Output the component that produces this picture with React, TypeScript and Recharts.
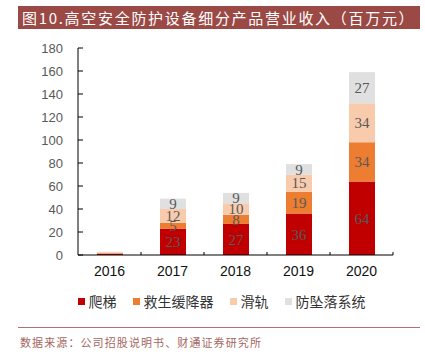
import React from 'react';
import { BarChart, Bar, XAxis, YAxis, LabelList, Legend } from 'recharts';

const years = ['2016', '2017', '2018', '2019', '2020'];
const pati = [1.2, 23, 27, 36, 64];
const jiusheng = [0.3, 5, 8, 19, 34];
const huagui = [1.0, 12, 10, 15, 34];
const fangzhui = [0.3, 9, 9, 9, 27];
const yTicks = [0, 20, 40, 60, 80, 100, 120, 140, 160, 180];

const series = [
  { key: '爬梯', values: pati, color: '#C00000' },
  { key: '救生缓降器', values: jiusheng, color: '#ED7D31' },
  { key: '滑轨', values: huagui, color: '#F8CBAD' },
  { key: '防坠落系统', values: fangzhui, color: '#E0E0E0' },
];

const data = years.map((year, i) => {
  const row: Record<string, string | number> = { year };
  series.forEach((s) => {
    row[s.key] = s.values[i];
  });
  return row;
});

const CHART_W = 425;
const CHART_H = 320;
const MARGIN = { top: 48, right: 32, bottom: 9, left: 28 };
const Y_AXIS_W = 50;
const X_TICK_MARGIN = 11;
const HALF_BAND = (CHART_W - MARGIN.left - MARGIN.right - Y_AXIS_W) / years.length / 2;

const XTick = (props: any) => {
  const { x, y, payload } = props;
  const axisY = y - X_TICK_MARGIN;
  return (
    <g>
      <line x1={x + HALF_BAND} x2={x + HALF_BAND} y1={axisY} y2={axisY - 3} stroke="#000" />
      <text
        x={x}
        y={y}
        dy="0.71em"
        textAnchor="middle"
        fontSize={14}
        fill="#111"
        fontFamily="Liberation Sans, Arial, sans-serif"
      >
        {payload.value}
      </text>
    </g>
  );
};

const labelFmt = (v: any) => (Number(v) >= 3 ? Math.round(Number(v)) : '');

const LegendContent = () => (
  <div
    style={{
      display: 'flex',
      justifyContent: 'center',
      alignItems: 'center',
      transform: 'translateX(19px)',
      fontFamily: '"Noto Sans CJK SC", sans-serif',
      fontSize: 14,
      color: '#333',
      lineHeight: '20px',
    }}
  >
    {series.map((s) => (
      <div key={s.key} style={{ display: 'flex', alignItems: 'center', marginRight: 16 }}>
        <span style={{ width: 7, height: 7, background: s.color, marginRight: 4, display: 'inline-block' }} />
        <span>{s.key}</span>
      </div>
    ))}
  </div>
);

export default function App() {
  return (
    <div style={{ position: 'absolute', left: 0, top: 0, width: 425, height: 361, background: '#fff' }}>
      <div
        style={{
          position: 'absolute',
          left: 18,
          top: 6,
          width: 398,
          height: 23,
          paddingLeft: 4,
          background: '#9B4945',
          color: '#fff',
          fontFamily: '"Noto Sans CJK SC", serif',
          fontSize: 15,
          letterSpacing: 1.7,
          lineHeight: '23px',
          whiteSpace: 'nowrap',
        }}
      >
        图10.高空安全防护设备细分产品营业收入（百万元）
      </div>
      <div style={{ position: 'absolute', left: 0, top: 0 }}>
        <BarChart width={CHART_W} height={CHART_H} data={data} margin={MARGIN} barSize={26}>
          <XAxis
            dataKey="year"
            height={36}
            tickLine={false}
            tickSize={0}
            tickMargin={X_TICK_MARGIN}
            axisLine={{ stroke: '#000' }}
            tick={<XTick />}
            interval={0}
          />
          <YAxis
            width={Y_AXIS_W}
            domain={[0, 180]}
            ticks={yTicks}
            interval={0}
            tickSize={-5}
            tickMargin={20}
            axisLine={{ stroke: '#000' }}
            tickLine={{ stroke: '#000' }}
            tick={{ fontSize: 13, fill: '#595959', fontFamily: 'Liberation Sans, Arial, sans-serif' }}
          />
          <Legend verticalAlign="bottom" height={20} content={<LegendContent />} />
          {series.map((s) => (
            <Bar key={s.key} dataKey={s.key} stackId="a" fill={s.color} isAnimationActive={false}>
              <LabelList
                dataKey={s.key}
                position="center"
                formatter={labelFmt}
                fill="#595959"
                fontSize={15}
                fontFamily="Liberation Serif, serif"
              />
            </Bar>
          ))}
        </BarChart>
      </div>
      <div style={{ position: 'absolute', left: 18, top: 327, width: 402, height: 1, background: '#B0726D' }} />
      <div
        style={{
          position: 'absolute',
          left: 20,
          top: 334,
          fontFamily: '"Noto Sans CJK SC", sans-serif',
          fontSize: 11,
          letterSpacing: 1.1,
          color: '#A56661',
          whiteSpace: 'nowrap',
        }}
      >
        数据来源：公司招股说明书、财通证券研究所
      </div>
    </div>
  );
}
